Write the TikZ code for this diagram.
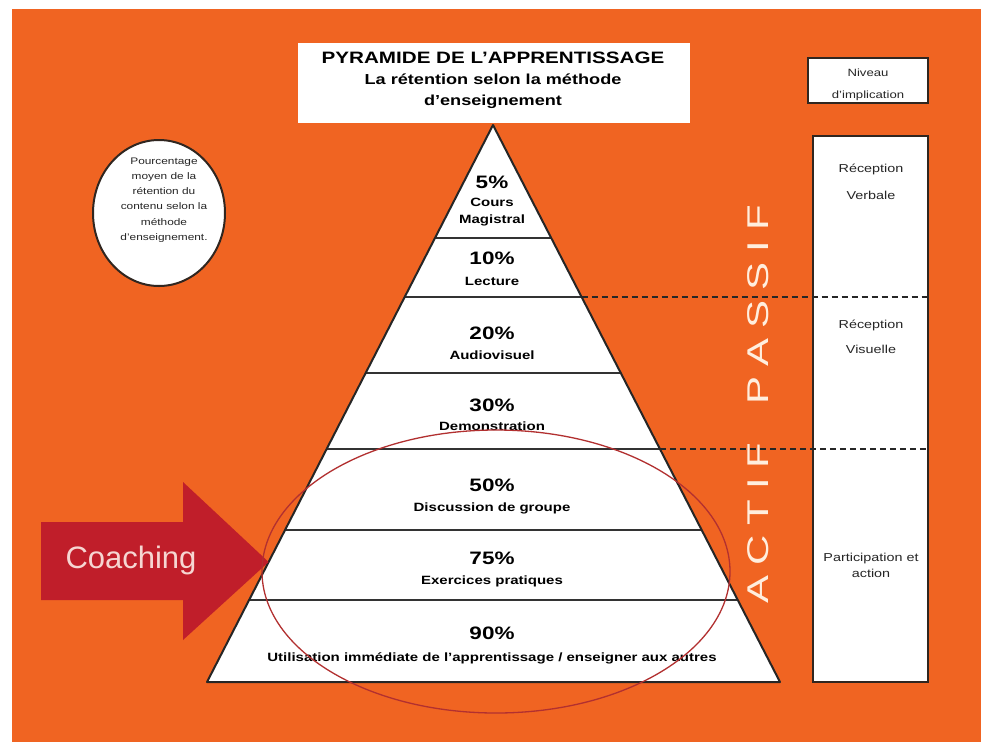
\documentclass[tikz,border=0pt]{standalone}
\usepackage{fontspec}
\setmainfont{Liberation Sans}[FakeStretch=1.25]
\newfontfamily\plainsans{Liberation Sans}
\newfontfamily\widesans{Liberation Sans}[FakeStretch=1.4]
\usetikzlibrary{calc,shapes.geometric}
\definecolor{bgorange}{RGB}{240,100,34}
\definecolor{arrowred}{RGB}{192,30,42}
\definecolor{ellred}{RGB}{178,48,48}
\definecolor{border}{RGB}{48,38,32}
\definecolor{coachtxt}{RGB}{246,214,210}
\definecolor{vtxt}{RGB}{255,238,222}
\tikzset{
  pct/.style={font=\bfseries\fontsize{18}{18}\selectfont, inner sep=0pt},
  lbl/.style={font=\bfseries\fontsize{12}{17}\selectfont, inner sep=0pt, align=center},
  side/.style={font=\fontsize{11.5}{14}\selectfont, inner sep=0pt, align=center, text=black!85},
  boxline/.style={draw=border, line width=2pt},
  rowline/.style={draw=black!80, line width=1.5pt},
  sepline/.style={draw=black!85, line width=2pt, dash pattern=on 6pt off 4pt},
  vword/.style={rotate=90, inner sep=0pt, text=vtxt, font=\widesans\fontsize{30}{30}\selectfont},
}
\begin{document}
\begin{tikzpicture}[x=1pt,y=-1pt]
\useasboundingbox (0,0) rectangle (981,742);
\fill[white] (0,0) rectangle (981,742);
\fill[bgorange] (12,9) rectangle (981,742);

% title box
\node[fill=white, minimum width=392pt, minimum height=80pt, inner sep=0pt] (titlebox) at (494,83) {};
\node[inner sep=0pt, font=\bfseries\fontsize{16.5}{18}\selectfont] (title) at (493,58) {PYRAMIDE DE L’APPRENTISSAGE};
\node[inner sep=0pt, font=\bfseries\fontsize{14.5}{21}\selectfont, align=center] (subtitle) at (493,91) {La rétention selon la méthode\\d’enseignement};

% circle
\node[draw=border, line width=2pt, fill=white, ellipse, minimum width=132pt, minimum height=146pt, inner sep=0pt] (circ) at (159,213) {};
\node[inner sep=0pt, align=center, font=\fontsize{9.5}{15.2}\selectfont, text=black!85] (circtext) at (164,200)
  {Pourcentage\\moyen de la\\rétention du\\contenu selon la\\méthode\\d’enseignement.};

% top-right box
\node[fill=white, minimum width=120pt, minimum height=45pt, inner sep=0pt] (nivbox) at (868,80.5) {};
\begin{scope}
  \clip (nivbox.south west) rectangle (nivbox.north east);
  \node[side, font=\fontsize{10.5}{22}\selectfont] (niv) at (868,85) {Niveau\\d’implication};
\end{scope}
\node[boxline, minimum width=120pt, minimum height=45pt, inner sep=0pt] (nivframe) at (868,80.5) {};

% right column
\node[boxline, fill=white, minimum width=115pt, minimum height=546pt, inner sep=0pt] (colbox) at (870.5,409) {};
\node[side, font=\fontsize{11.5}{27}\selectfont] (verb) at (871,182) {Réception\\Verbale};
\node[side, font=\fontsize{11.5}{25}\selectfont] (visu) at (871,337) {Réception\\Visuelle};
\node[side, font=\fontsize{11.5}{16}\selectfont] (part) at (871,565) {Participation et\\action};

% pyramid
\coordinate (apex) at (493,125);
\coordinate (bl) at (207,682);
\coordinate (br) at (780,682);
\fill[white] (apex) -- (bl) -- (br) -- cycle;
\foreach \t/\n in {0.2029/1, 0.3088/2, 0.4452/3, 0.5817/4, 0.7271/5, 0.8528/6}{
  \coordinate (L\n) at ($(apex)!\t!(bl)$);
  \coordinate (R\n) at ($(apex)!\t!(br)$);
  \draw[rowline] (L\n) -- (R\n);
}
\draw[draw=black!85, line width=2pt, line join=round] (apex) -- (bl) -- (br) -- cycle;

% separators
\draw[sepline] (R2) -- (R2 -| colbox.east);
\draw[sepline] (R4) -- (R4 -| colbox.east);

% pyramid labels
\node[pct] (p5) at (492,182) {5\%};
\node[lbl] (l5) at (492,212) {Cours\\Magistral};
\node[pct] (p10) at (492,258) {10\%};
\node[lbl] (l10) at (492,281) {Lecture};
\node[pct] (p20) at (492,333) {20\%};
\node[lbl] (l20) at (492,355) {Audiovisuel};
\node[pct] (p30) at (492,405) {30\%};
\node[lbl] (l30) at (492,426) {Demonstration};
\node[pct] (p50) at (492,485) {50\%};
\node[lbl] (l50) at (492,508) {Discussion de groupe};
\node[pct] (p75) at (492,558) {75\%};
\node[lbl] (l75) at (492,581) {Exercices pratiques};
\node[pct] (p90) at (492,633) {90\%};
\node[lbl] (l90) at (492,658) {Utilisation immédiate de l’apprentissage / enseigner aux autres};

% coaching arrow
\coordinate (tip) at ($(apex)!0.7846!(bl)$);
\fill[arrowred] (41,522) -- (183,522) -- (183,482) -- (tip) -- (183,640) -- (183,600) -- (41,600) -- cycle;
\node[inner sep=0pt, text=coachtxt, font=\plainsans\fontsize{31}{31}\selectfont] (coach) at (131,560) {Coaching};

% red ellipse
\draw[ellred, line width=1.3pt] (496,571.5) ellipse [x radius=234pt, y radius=141.5pt];

% vertical words
\node[vword] (actif) at (758,523) {A\hspace{10pt}C\hspace{10pt}T\hspace{10pt}I\hspace{10pt}F};
\node[vword] (passif) at (758,305) {P\hspace{10pt}A\hspace{10pt}S\hspace{10pt}S\hspace{10pt}I\hspace{10pt}F};
\end{tikzpicture}
\end{document}
